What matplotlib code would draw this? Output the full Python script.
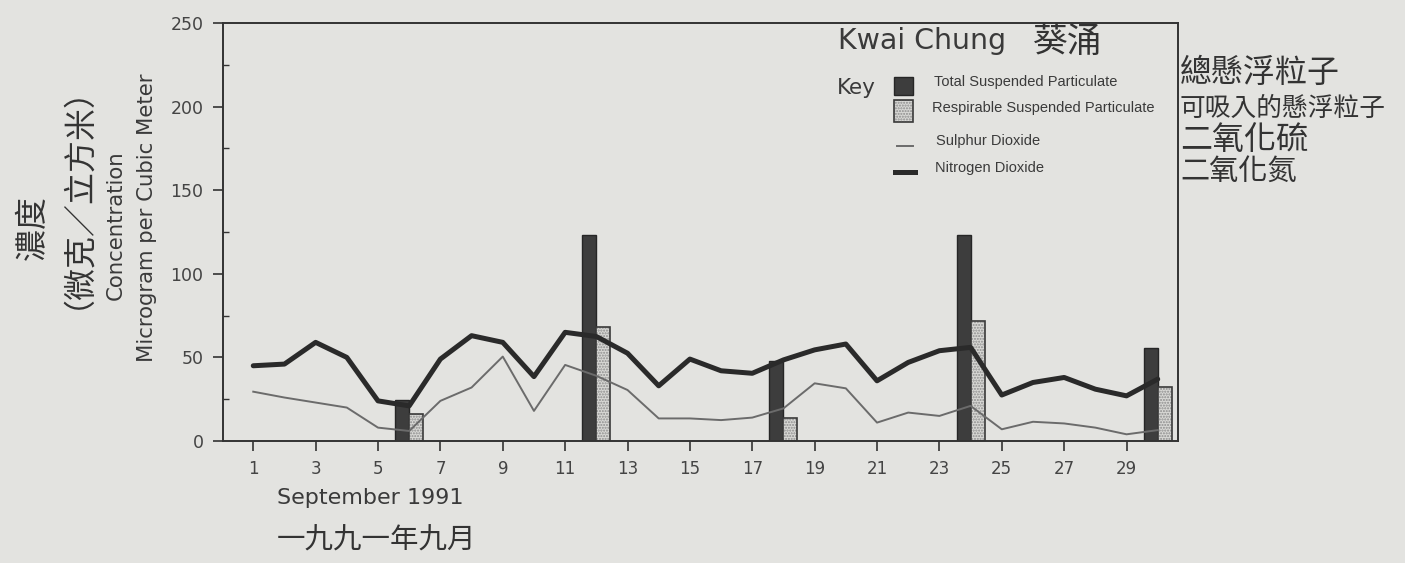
import numpy as np
import matplotlib
matplotlib.use("Agg")
import matplotlib.pyplot as plt
from matplotlib.ticker import MultipleLocator
from matplotlib.patches import Rectangle
from matplotlib.lines import Line2D

# ---------------- data ----------------
days = list(range(1, 31))
no2 = [45, 46, 59, 50, 24, 21, 49, 63, 59, 38.5,
       65, 62.5, 52.5, 33, 49, 42, 40.5, 48.5, 54.5, 58,
       36, 47, 54, 56, 27.5, 35, 38, 31, 27, 37]
so2 = [29.5, 26, 23, 20, 8, 6, 24, 32, 50.5, 18,
       45.5, 39, 30.5, 13.5, 13.5, 12.5, 14, 19.5, 34.5, 31.5,
       11, 17, 15, 21, 7, 11.5, 10.5, 8, 4, 6.5]
particulate_days = [6, 12, 18, 24, 30]
tsp = [24.5, 123, 48, 123, 55.5]
rsp = [16, 68, 13.5, 72, 32]
x_ticks = list(range(1, 30, 2))
y_ticks = [0, 50, 100, 150, 200, 250]

title_en = "Kwai Chung"
title_zh = "葵涌"
legend_labels = ["Total Suspended Particulate", "Respirable Suspended Particulate",
                 "Sulphur Dioxide", "Nitrogen Dioxide"]
legend_zh = ["總懸浮粒子", "可吸入的懸浮粒子", "二氧化硫", "二氧化氮"]
ylabel_lines = ["Concentration", "Microgram per Cubic Meter"]
ylabel_zh = ["濃度", "（微克／立方米）"]
xlabel_en = "September 1991"
xlabel_zh = "一九九一年九月"

# ---------------- figure ----------------
W, H = 1405, 563
BG = "#e3e3e0"
INK = "#333333"
CJK = ["Noto Sans CJK TC", "DejaVu Sans"]

fig = plt.figure(figsize=(W / 100, H / 100), dpi=100)
fig.patch.set_facecolor(BG)

def fx(px):
    return px / W

def fy(py):
    return 1 - py / H

ax = fig.add_axes([fx(223), fy(441), (1178 - 223) / W, (441 - 23) / H])
ax.set_facecolor(BG)

bw = 0.45
pdays = np.array(particulate_days, dtype=float)
ax.bar(pdays - bw / 2, tsp, width=bw, color="#3d3d3d", edgecolor="#262626", linewidth=1.0, zorder=2)
ax.bar(pdays + bw / 2, rsp, width=bw, color="#d8d8d5", edgecolor="#8c8c8c", hatch="......",
       linewidth=0, zorder=2)
ax.bar(pdays + bw / 2, rsp, width=bw, fill=False, edgecolor="#3a3a3a", linewidth=1.2, zorder=2.1)

ax.plot(days, so2, color="#6b6b6b", linewidth=1.4, zorder=3, solid_joinstyle="round")
ax.plot(days, no2, color="#2a2a2a", linewidth=3.6, zorder=4, solid_joinstyle="round",
        solid_capstyle="round")

ax.set_xlim(0.03, 30.65)
ax.set_ylim(0, 250)
ax.set_xticks(x_ticks)
ax.set_yticks(y_ticks)
ax.yaxis.set_minor_locator(MultipleLocator(25))
ax.tick_params(axis="both", which="major", direction="out", length=7, width=1.2,
               color=INK, labelcolor="#444444")
ax.tick_params(axis="y", which="major", labelsize=12.5, pad=7)
ax.tick_params(axis="x", which="major", labelsize=12, pad=7)
ax.tick_params(axis="y", which="minor", direction="in", length=4, width=1.0, color=INK)
for s in ax.spines.values():
    s.set_color(INK)
    s.set_linewidth(1.4)

# ---------------- axis titles ----------------
fig.text(fx(116), fy(225), ylabel_lines[0], rotation=90, ha="center", va="center",
         fontsize=15.3, color="#3a3a3a")
fig.text(fx(147), fy(218), ylabel_lines[1], rotation=90, ha="center", va="center",
         fontsize=15.3, color="#3a3a3a")
fig.text(fx(47), fy(181), ylabel_zh[0] + "\u3000\u3000\u3000\n" + ylabel_zh[1], rotation=90,
         ha="center", va="center", multialignment="center", linespacing=0.78,
         fontsize=23, color=INK, family=CJK)

fig.text(fx(277), fy(498), xlabel_en, ha="left", va="center", fontsize=16, color="#3a3a3a")
fig.text(fx(277), fy(541), xlabel_zh, ha="left", va="center", fontsize=20.5, color=INK, family=CJK)

# ---------------- title + key ----------------
fig.text(fx(838), fy(41), title_en, ha="left", va="center", fontsize=20.5, color="#3a3a3a")
fig.text(fx(1033), fy(42), title_zh, ha="left", va="center", fontsize=25, color=INK, family=CJK)
fig.text(fx(837), fy(88), "Key", ha="left", va="center", fontsize=15.5, color="#3a3a3a")

fig.add_artist(Rectangle((fx(894), fy(95)), 19 / W, 18 / H, transform=fig.transFigure,
                         facecolor="#3d3d3d", edgecolor="#262626", linewidth=1.0))
fig.add_artist(Rectangle((fx(894), fy(122)), 19 / W, 22 / H, transform=fig.transFigure,
                         facecolor="#d8d8d5", edgecolor="#8c8c8c", hatch="......", linewidth=0))
fig.add_artist(Rectangle((fx(894), fy(122)), 19 / W, 22 / H, transform=fig.transFigure,
                         fill=False, edgecolor="#3a3a3a", linewidth=1.2))
fig.add_artist(Line2D([fx(897), fx(913)], [fy(146), fy(146)], transform=fig.transFigure,
                      color="#6b6b6b", linewidth=1.4))
fig.add_artist(Line2D([fx(895), fx(915)], [fy(172), fy(172)], transform=fig.transFigure,
                      color="#2a2a2a", linewidth=3.6))

leg_x = [934, 932, 936, 935]
leg_y = [82, 108, 141, 168]
for lab, lx, ly in zip(legend_labels, leg_x, leg_y):
    fig.text(fx(lx), fy(ly), lab, ha="left", va="center", fontsize=10.5,
             family="Liberation Sans", color="#3a3a3a")

zh_y = [73, 109, 140, 172]
zh_size = [23, 18.5, 23, 21]
for lab, ly, fs in zip(legend_zh, zh_y, zh_size):
    fig.text(fx(1180), fy(ly), lab, ha="left", va="center", fontsize=fs, color=INK, family=CJK)

fig.savefig("out.png", dpi=100, facecolor=BG)
